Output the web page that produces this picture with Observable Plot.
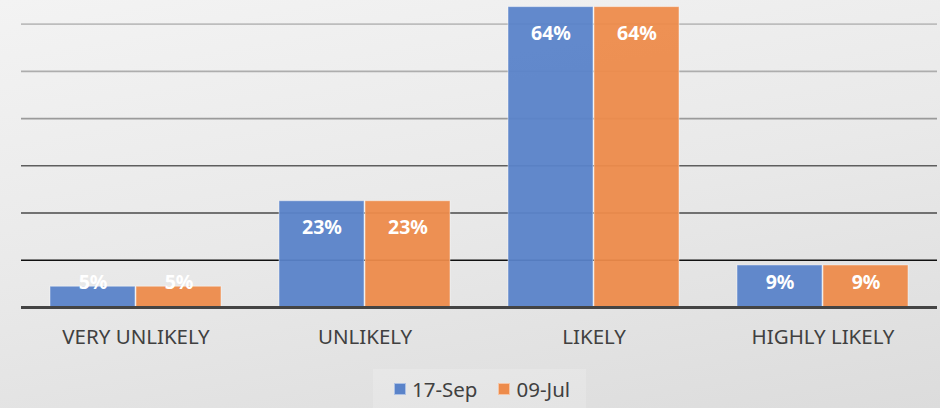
<!DOCTYPE html>
<html>
<head>
<meta charset="utf-8">
<script src="https://cdn.jsdelivr.net/npm/d3@7"></script>
<script src="https://cdn.jsdelivr.net/npm/@observablehq/plot@0.6"></script>
<style>
  html, body { margin: 0; padding: 0; }
  body {
    width: 940px; height: 408px; overflow: hidden; position: relative;
    background: linear-gradient(170deg, #f3f3f3 0%, #e9e9e9 50%, #dcdcdc 100%);
    font-family: "Noto Sans", "Open Sans", sans-serif;
  }
  #chart svg { display: block; background: transparent; }
  #legend {
    position: absolute; left: 373px; top: 369px; width: 213px; height: 39px;
    box-sizing: border-box; padding-left: 21px;
    background: rgba(255,255,255,0.18);
    display: flex; align-items: center; justify-content: flex-start; gap: 21px;
    font-size: 20.5px; color: #404040;
  }
  .item { display: flex; align-items: center; gap: 6px; }
  .sw { width: 12px; height: 12px; display: inline-block; box-sizing: border-box; border: 1px solid rgba(255,255,255,0.5); }
</style>
</head>
<body>
<div id="chart"></div>
<div id="legend"></div>
<script>
const categories = ["VERY UNLIKELY", "UNLIKELY", "LIKELY", "HIGHLY LIKELY"];
const series = ["17-Sep", "09-Jul"];
const sep17 = [4.4, 22.5, 63.6, 8.9];
const jul09 = [4.4, 22.5, 63.6, 8.9];
const sep17Labels = ["5%", "23%", "64%", "9%"];
const jul09Labels = ["5%", "23%", "64%", "9%"];
const gridValues = [10, 20, 30, 40, 50, 60];

const colors = ["#5a83c9", "#ed8b4b"];
const gridStroke = {10: "#111111", 20: "#4a4a4a", 30: "#5e5e5e", 40: "#9a9a9a", 50: "#adadad", 60: "#bdbdbd"};

const data = [];
categories.forEach((c, i) => {
  data.push({category: c, series: series[0], value: sep17[i], label: sep17Labels[i]});
  data.push({category: c, series: series[1], value: jul09[i], label: jul09Labels[i]});
});

const chart = Plot.plot({
  width: 940,
  height: 360,
  marginTop: 0,
  marginBottom: 53,
  marginLeft: 20,
  marginRight: 2,
  style: {background: "transparent", fontFamily: "'Noto Sans', 'Open Sans', sans-serif"},
  fx: {domain: categories, padding: 0, label: null},
  x: {domain: series, paddingInner: 0.01, paddingOuter: 0.33, axis: null},
  y: {domain: [0, 65], axis: null},
  color: {domain: series, range: colors},
  marks: [
    Plot.ruleY(gridValues, {y: d => d, stroke: d => gridStroke[d], strokeWidth: 1.6}),
    Plot.barY(data, {
      fx: "category", x: "series", y: "value", fill: "series",
      fillOpacity: 0.95, stroke: "#ffffff", strokeOpacity: 0.45, strokeWidth: 1
    }),
    Plot.ruleY([0], {stroke: "#444444", strokeWidth: 3}),
    Plot.text(data, {
      fx: "category", x: "series", y: d => Math.max(d.value - 5.7, 5.3), text: "label",
      fill: "white", fontWeight: "bold", fontSize: 19.5
    }),
    Plot.axisFx({anchor: "bottom", tickSize: 0, tickPadding: 22, fontSize: 20.5, color: "#404040", label: null})
  ]
});
document.getElementById("chart").appendChild(chart);

const legend = document.getElementById("legend");
series.forEach((s, i) => {
  const item = document.createElement("span");
  item.className = "item";
  const sw = document.createElement("span");
  sw.className = "sw";
  sw.style.background = colors[i];
  item.appendChild(sw);
  item.appendChild(document.createTextNode(s));
  legend.appendChild(item);
});
</script>
</body>
</html>
